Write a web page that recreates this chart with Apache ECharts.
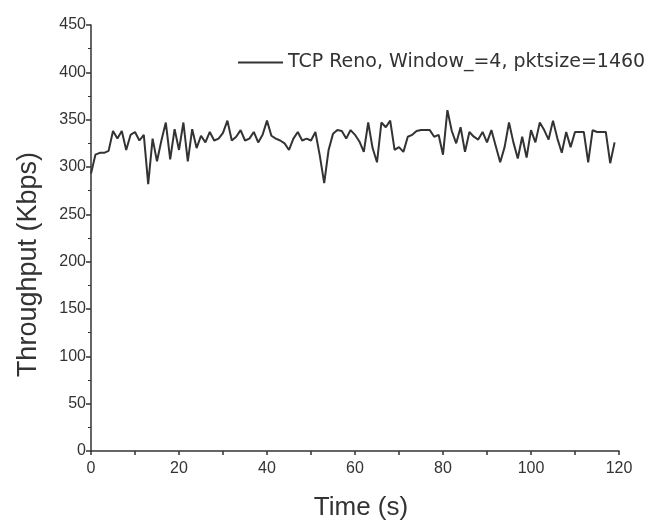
<!DOCTYPE html>
<html>
<head>
<meta charset="utf-8">
<script src="https://cdn.jsdelivr.net/npm/echarts@6/dist/echarts.min.js"></script>
<style>html,body{margin:0;padding:0;background:#fff;}#c{width:657px;height:527px;}</style>
</head>
<body>
<div id="c"></div>
<script>
const seriesName = 'TCP Reno, Window_=4, pktsize=1460';
const xTitle = 'Time (s)';
const yTitle = 'Throughput (Kbps)';
const times = [];
for (let i = 0; i < 120; i++) times.push(i);
const throughput = [
  293, 313, 315, 315, 317, 338, 330, 338, 318, 334,
  337, 328, 334, 282, 330, 306, 328, 347, 308, 340,
  318, 347, 306, 340, 320, 333, 326, 337, 328, 330,
  336, 349, 328, 332, 339, 328, 330, 337, 326, 334,
  349, 333, 330, 328, 325, 318, 330, 337, 328, 330,
  328, 337, 312, 283, 318, 335, 339, 338, 330, 339,
  334, 327, 316, 347, 320, 305, 347, 342, 349, 318,
  321, 316, 332, 334, 338, 339, 339, 339, 332, 334,
  313, 360, 338, 325, 342, 316, 337, 332, 329, 337,
  326, 339, 322, 305, 321, 347, 326, 309, 332, 310,
  339, 326, 347, 339, 329, 349, 330, 315, 337, 321,
  337, 337, 337, 305, 339, 337, 337, 337, 304, 326
];
const xTicks = [0, 20, 40, 60, 80, 100, 120];
const yTicks = [0, 50, 100, 150, 200, 250, 300, 350, 400, 450];

const chart = echarts.init(document.getElementById('c'));
const ink = '#333';
const font = 'Liberation Sans, Arial, sans-serif';
chart.setOption({
  backgroundColor: '#fff',
  animation: false,
  grid: { left: 91, right: 38, top: 25, bottom: 76 },
  legend: {
    left: 233, top: 48,
    itemWidth: 45, itemHeight: 10, itemGap: 10,
    icon: 'path://M0,4 L45,4 L45,6 L0,6 Z',
    textStyle: { color: ink, fontSize: 19, fontFamily: 'DejaVu Sans, sans-serif' },
    data: [seriesName]
  },
  graphic: [{
    type: 'text',
    left: 15, top: 152,
    style: { text: yTitle, fill: ink, font: '27px ' + font },
    rotation: Math.PI / 2,
    originX: 0, originY: 0
  }],
  xAxis: {
    type: 'value', min: 0, max: 120, interval: 10,
    name: xTitle, nameLocation: 'middle', nameGap: 44,
    nameTextStyle: { color: ink, fontSize: 26, fontFamily: font, padding: [0, 0, 0, 12] },
    axisLine: { lineStyle: { color: ink, width: 1.5 } },
    axisTick: { show: true, length: 4, lineStyle: { color: ink, width: 1.5 } },
    axisLabel: {
      color: ink, fontSize: 16, fontFamily: font, margin: 10,
      formatter: v => xTicks.indexOf(v) >= 0 ? String(v) : ''
    },
    splitLine: { show: false }
  },
  yAxis: {
    type: 'value', min: 0, max: 450, interval: 50,
    axisLine: { show: true, lineStyle: { color: ink, width: 1.5 } },
    axisTick: { show: true, length: 5, lineStyle: { color: ink, width: 1.5 } },
    minorTick: { show: true, splitNumber: 2, length: 3, lineStyle: { color: ink, width: 1 } },
    axisLabel: {
      color: ink, fontSize: 16, fontFamily: font, margin: 5,
      formatter: v => yTicks.indexOf(v) >= 0 ? String(v) : ''
    },
    splitLine: { show: false }
  },
  series: [{
    name: seriesName,
    type: 'line',
    data: times.map((t, i) => [t, throughput[i]]),
    showSymbol: false,
    lineStyle: { color: '#333', width: 2 },
    itemStyle: { color: '#333' }
  }]
});
</script>
</body>
</html>
